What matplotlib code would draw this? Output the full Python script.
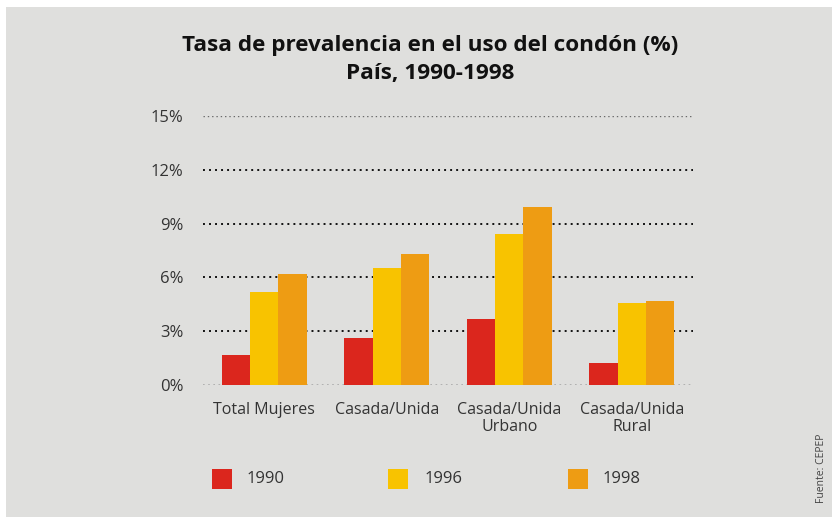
import matplotlib
matplotlib.use("Agg")
import matplotlib.pyplot as plt
import numpy as np
from matplotlib.patches import Rectangle

categories = ["Total Mujeres", "Casada/Unida", "Casada/Unida\nUrbano", "Casada/Unida\nRural"]
years = ["1990", "1996", "1998"]
v1990 = [1.7, 2.6, 3.7, 1.2]
v1996 = [5.2, 6.5, 8.4, 4.6]
v1998 = [6.2, 7.3, 9.9, 4.7]
yticks = [0, 3, 6, 9, 12, 15]
ytick_labels = ["0%", "3%", "6%", "9%", "12%", "15%"]

colors = ["#db261d", "#f8c300", "#ee9c13"]
bg = "#dfdfdd"
txt = "#333333"
font = ["Open Sans", "DejaVu Sans"]
plt.rcParams['font.family'] = font

W, H = 832, 517
fig = plt.figure(figsize=(W/100, H/100), dpi=100)
fig.patch.set_facecolor("white")
fig.patches.append(Rectangle((6/W, 0), 1, 1 - 7/H, transform=fig.transFigure,
                             facecolor=bg, edgecolor="none", zorder=-10))

ax = fig.add_axes([203/W, 1 - 385/H, (693-203)/W, (385-116)/H])
ax.set_facecolor("none")
x = np.arange(len(categories))
bw = 0.23
for i, (vals, c) in enumerate(zip([v1990, v1996, v1998], colors)):
    ax.bar(x + (i-1)*bw, vals, width=bw, color=c, zorder=3, linewidth=0)

for t in yticks:
    if t == 0:
        col, lw = "#a8a8a8", 1.2
    elif t == 15:
        col, lw = "#6a6a6a", 1.0
    else:
        col, lw = "#111111", 1.4
    ax.axhline(t, color=col, lw=lw, linestyle=(0, (1, 2.1)), zorder=1)

ax.set_xlim(-0.5, 3.5)
ax.set_ylim(0, 15)
ax.set_yticks(yticks)
ax.set_yticklabels(ytick_labels, fontsize=12, color=txt)
ax.set_xticks(x)
ax.set_xticklabels(categories, fontsize=11.5, color=txt, linespacing=1.15)
ax.tick_params(axis="both", length=0)
ax.tick_params(axis="y", pad=14)
ax.tick_params(axis="x", pad=12)
for s in ax.spines.values():
    s.set_visible(False)

fig.text(430/W, 1 - 45/H, "Tasa de prevalencia en el uso del condón (%)", ha="center", va="center",
         fontsize=16.2, fontweight="bold", color="#111111")
fig.text(430/W, 1 - 74/H, "País, 1990-1998", ha="center", va="center",
         fontsize=16.2, fontweight="bold", color="#111111")

leg_sq = [212, 388, 568]
leg_tx = [247, 425, 603]
for sx, tx, c, y in zip(leg_sq, leg_tx, colors, years):
    fig.patches.append(Rectangle((sx/W, 1 - 489/H), 20/W, 20/H, transform=fig.transFigure,
                                 facecolor=c, edgecolor="none"))
    fig.text(tx/W, 1 - 479/H, y, ha="left", va="center", fontsize=12, color=txt)

fig.text(822/W, 1 - 468/H, "Fuente: CEPEP", rotation=90, ha="center", va="center",
         fontsize=7.5, color="#444444")

fig.savefig("out.png", dpi=100, facecolor=fig.get_facecolor())
